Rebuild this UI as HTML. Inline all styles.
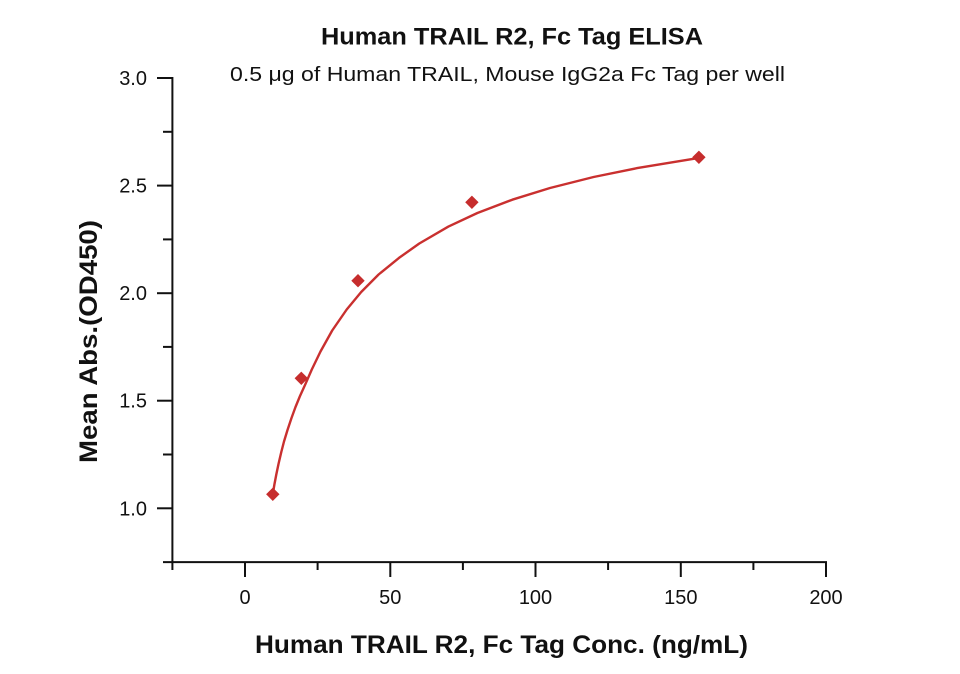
<!DOCTYPE html>
<html>
<head>
<meta charset="utf-8">
<style>
  html, body { margin: 0; padding: 0; background: #ffffff; }
  svg { display: block; }
  text { font-family: "Liberation Sans", "DejaVu Sans", sans-serif; fill: #111; }
</style>
</head>
<body>
<svg width="960" height="674" viewBox="0 0 960 674" xmlns="http://www.w3.org/2000/svg">
  <rect x="0" y="0" width="960" height="674" fill="#ffffff"/>

  <!-- Titles -->
  <text x="512" y="44.5" font-size="24" font-weight="bold" text-anchor="middle" textLength="382" lengthAdjust="spacingAndGlyphs">Human TRAIL R2, Fc Tag ELISA</text>
  <text x="507.5" y="81" font-size="20" text-anchor="middle" textLength="555" lengthAdjust="spacingAndGlyphs">0.5 μg of Human TRAIL, Mouse IgG2a Fc Tag per well</text>

  <!-- Axes -->
  <g stroke="#111" stroke-width="2" fill="none" stroke-linecap="butt">
    <line x1="172.4" y1="77" x2="172.4" y2="570"/>
    <line x1="163" y1="562.1" x2="827" y2="562.1"/>
    <line x1="157" y1="78" x2="172.4" y2="78"/>
    <line x1="157" y1="185.6" x2="172.4" y2="185.6"/>
    <line x1="157" y1="293.2" x2="172.4" y2="293.2"/>
    <line x1="157" y1="400.7" x2="172.4" y2="400.7"/>
    <line x1="157" y1="508.3" x2="172.4" y2="508.3"/>
    <line x1="163" y1="131.8" x2="172.4" y2="131.8"/>
    <line x1="163" y1="239.4" x2="172.4" y2="239.4"/>
    <line x1="163" y1="346.9" x2="172.4" y2="346.9"/>
    <line x1="163" y1="454.5" x2="172.4" y2="454.5"/>
    <line x1="245" y1="562.1" x2="245" y2="577"/>
    <line x1="390.3" y1="562.1" x2="390.3" y2="577"/>
    <line x1="535.5" y1="562.1" x2="535.5" y2="577"/>
    <line x1="680.8" y1="562.1" x2="680.8" y2="577"/>
    <line x1="826" y1="562.1" x2="826" y2="577"/>
    <line x1="317.6" y1="562.1" x2="317.6" y2="570"/>
    <line x1="462.9" y1="562.1" x2="462.9" y2="570"/>
    <line x1="608.1" y1="562.1" x2="608.1" y2="570"/>
    <line x1="753.4" y1="562.1" x2="753.4" y2="570"/>
  </g>

  <!-- Y tick labels -->
  <g font-size="20" text-anchor="end">
    <text x="147" y="85">3.0</text>
    <text x="147" y="192.6">2.5</text>
    <text x="147" y="300.2">2.0</text>
    <text x="147" y="407.7">1.5</text>
    <text x="147" y="515.3">1.0</text>
  </g>

  <!-- X tick labels -->
  <g font-size="20" text-anchor="middle">
    <text x="245" y="604">0</text>
    <text x="390.3" y="604">50</text>
    <text x="535.5" y="604">100</text>
    <text x="680.8" y="604">150</text>
    <text x="826" y="604">200</text>
  </g>

  <!-- Axis titles -->
  <text x="501.5" y="653" font-size="25" font-weight="bold" text-anchor="middle" textLength="493" lengthAdjust="spacingAndGlyphs">Human TRAIL R2, Fc Tag Conc. (ng/mL)</text>
  <text transform="translate(97,341.5) rotate(-90)" x="0" y="0" font-size="25" font-weight="bold" text-anchor="middle" textLength="243" lengthAdjust="spacingAndGlyphs">Mean Abs.(OD450)</text>

  <!-- Fit curve -->
  <polyline fill="none" stroke="#c9302f" stroke-width="2.4" stroke-linejoin="round" stroke-linecap="round"
    points="272.8,494 274.4,484.5 276.3,474.5 278.5,464 281.3,452 284,441.5 287.5,430 291.5,418 295.5,407 300,396 305,385 311.8,369.5 320.5,351.5 332.2,330.5 346.7,309.5 361.2,292 378.6,274.5 399,257.9 419.3,243.5 448.4,226.6 477.4,213 512.3,199.7 550,188 593.6,177 637.2,168.1 698.9,157.9"/>

  <!-- Data markers -->
  <g fill="#c62d2d">
    <polygon points="272.8,487.6 279.5,494.3 272.8,501 266.1,494.3"/>
    <polygon points="301.3,371.6 308,378.3 301.3,385 294.6,378.3"/>
    <polygon points="358,274 364.7,280.7 358,287.4 351.3,280.7"/>
    <polygon points="471.9,195.6 478.6,202.3 471.9,209 465.2,202.3"/>
    <polygon points="698.9,150.6 705.6,157.3 698.9,164 692.2,157.3"/>
  </g>
</svg>
</body>
</html>
